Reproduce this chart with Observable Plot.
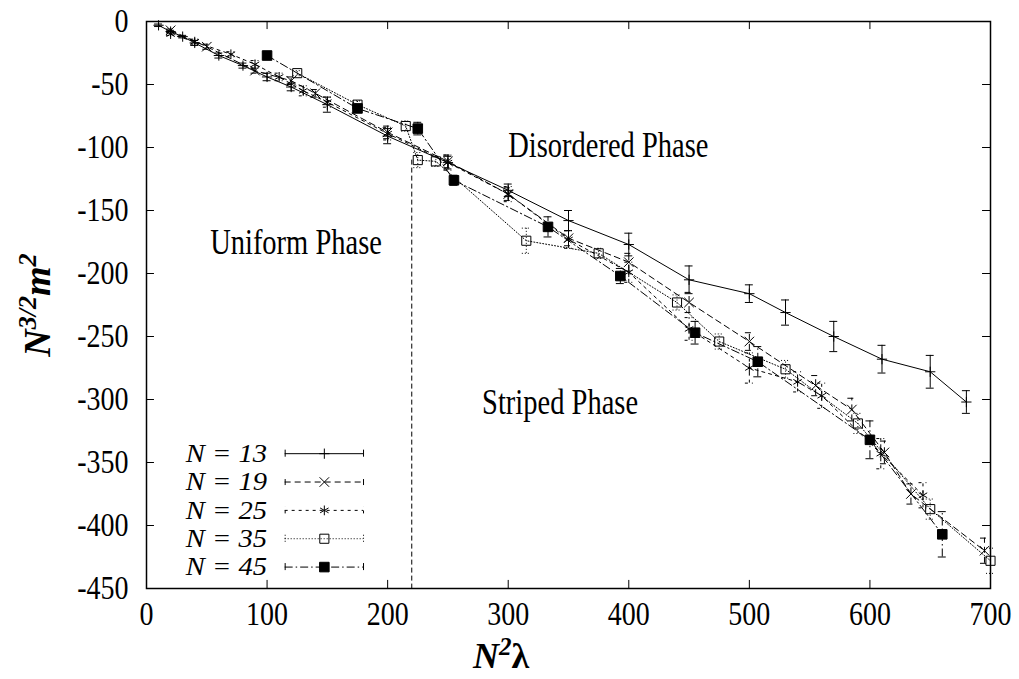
<!DOCTYPE html>
<html><head><meta charset="utf-8">
<script src="https://cdn.jsdelivr.net/npm/d3@7"></script>
<script src="https://cdn.jsdelivr.net/npm/@observablehq/plot@0.6"></script>
<style>body{margin:0;background:#fff} #chart{width:1019px;height:679px}</style>
</head><body><div id="chart"></div>
<script>
// ---- data ----
const seriesNames = ["N = 13", "N = 19", "N = 25", "N = 35", "N = 45"];

const n13X = [10, 20, 30, 40, 60, 80, 100, 120, 150, 200, 250, 300, 350, 400, 450, 500, 530, 570, 610, 650, 680];
const n13Y = [-3, -8, -12, -17, -27, -35, -44, -52, -66, -91, -112, -134, -158, -177, -205, -216, -231, -250, -268, -278, -302];
const n13E = [1, 1, 1, 2, 2, 2, 3, 3, 6, 6, 5, 5, 8, 9, 11, 7, 10, 12, 11, 13, 9];

const n19X = [20, 50, 90, 120, 140, 200, 250, 300, 350, 400, 450, 500, 555, 585, 612, 634, 695];
const n19Y = [-7, -20, -39, -47, -57, -88, -111, -137, -172, -191, -223, -254, -289, -308, -342, -375, -420];
const n19E = [1, 2, 2, 3, 3, 5, 5, 5, 6, 7, 8, 7, 8, 9, 9, 8, 10];

const n25X = [20, 40, 70, 90, 110, 130, 150, 200, 250, 300, 350, 400, 450, 500, 540, 560, 609, 644];
const n25Y = [-10, -16, -26, -34, -44, -55, -64, -89, -112, -137, -173, -199, -244, -275, -286, -297, -343, -376];
const n25E = [1, 2, 2, 3, 3, 4, 4, 5, 6, 6, 7, 8, 9, 12, 8, 10, 12, 10];

const n35X = [125, 175, 215, 225, 240, 315, 375, 440, 475, 530, 590, 650, 700];
const n35Y = [-41, -66, -83, -110, -111, -174, -184, -223, -254, -276, -319, -387, -428];
const n35E = [2, 3, 4, 6, 4, 10, 4, 6, 6, 7, 8, 8, 10];

const n45X = [100, 175, 225, 255, 333, 393, 455, 507, 600, 660];
const n45Y = [-27, -69, -85, -126, -163, -202, -247, -270, -332, -407];
const n45E = [2, 3, 5, 4, 8, 6, 9, 12, 15, 18];

const xTicks = [0, 100, 200, 300, 400, 500, 600, 700];
const yTicks = [0, -50, -100, -150, -200, -250, -300, -350, -400, -450];

const phaseLabels = ["Disordered Phase", "Uniform Phase", "Striped Phase"];
const phaseX = [383, 124, 343];
const phaseY = [-99, -176, -303];

const boundaryX = [220];
const boundaryY = [-110];

// ---- styles per series ----
const styles = [
  {dash: null, symbol: "plus", r: 3.4, fill: "none"},
  {dash: "6,4", symbol: "times", r: 4.4, fill: "none"},
  {dash: "3,4", symbol: "asterisk", r: 4.6, fill: "none"},
  {dash: "1,2", symbol: "square2", r: 5.8, fill: "none"},
  {dash: "8,3,1.5,3", symbol: "square", r: 5.4, fill: "black"}
];
const raw = [[n13X, n13Y, n13E], [n19X, n19Y, n19E], [n25X, n25Y, n25E], [n35X, n35Y, n35E], [n45X, n45Y, n45E]];

const capHalf = 3.3;
const marks = [];
raw.forEach(([xs, ys, es], si) => {
  const st = styles[si];
  const data = xs.map((x, i) => ({x, y: ys[i], e: es[i]}));
  const common = {stroke: "black", strokeWidth: 1, strokeDasharray: st.dash};
  marks.push(Plot.line(data, {x: "x", y: "y", ...common}));
  marks.push(Plot.ruleX(data, {x: "x", y1: d => d.y - d.e, y2: d => d.y + d.e, ...common}));
  marks.push(Plot.ruleY(data, {y: d => d.y - d.e, x1: d => d.x - capHalf, x2: d => d.x + capHalf, ...common}));
  marks.push(Plot.ruleY(data, {y: d => d.y + d.e, x1: d => d.x - capHalf, x2: d => d.x + capHalf, ...common}));
  marks.push(Plot.dot(data, {x: "x", y: "y", symbol: () => st.symbol, r: st.r, fill: st.fill, stroke: "black", strokeWidth: 1}));
});

// legend (inside plot, bottom-left)
const legRows = seriesNames.map((name, i) => ({name, i, y: -343 - 22.5 * i}));
legRows.forEach(row => {
  const st = styles[row.i];
  const common = {stroke: "black", strokeWidth: 1, strokeDasharray: st.dash};
  marks.push(Plot.ruleY([row], {y: "y", x1: 115, x2: 180, ...common}));
  marks.push(Plot.ruleX([row], {x: 115, y1: d => d.y - 2.8, y2: d => d.y + 2.8, ...common}));
  marks.push(Plot.ruleX([row], {x: 180, y1: d => d.y - 2.8, y2: d => d.y + 2.8, ...common}));
  marks.push(Plot.dot([row], {x: 147.5, y: "y", symbol: () => st.symbol, r: st.r, fill: st.fill, stroke: "black", strokeWidth: 1}));
  marks.push(Plot.text([row], {x: 100, y: "y", text: "name", textAnchor: "end", fontStyle: "italic", fontSize: 26, fill: "black", className: "leg-text"}));
});

marks.push(Plot.ruleX(boundaryX.map((x, i) => ({x, y: boundaryY[i]})), {x: "x", y1: "y", y2: -450, stroke: "black", strokeWidth: 1, strokeDasharray: "5,3"}));

marks.push(Plot.text(phaseLabels.map((t, i) => ({t, x: phaseX[i], y: phaseY[i]})), {x: "x", y: "y", text: "t", fontSize: 28.5, fill: "black", className: "stretch-phase"}));

const tkY = 6.4, tkX = 6.6;
marks.push(Plot.ruleX(xTicks, {x: d => d, y1: -450, y2: -450 + tkY, stroke: "black", strokeWidth: 1}));
marks.push(Plot.ruleX(xTicks, {x: d => d, y1: 0, y2: -tkY, stroke: "black", strokeWidth: 1}));
marks.push(Plot.ruleY(yTicks, {y: d => d, x1: 0, x2: tkX, stroke: "black", strokeWidth: 1}));
marks.push(Plot.ruleY(yTicks, {y: d => d, x1: 700 - tkX, x2: 700, stroke: "black", strokeWidth: 1}));

marks.push(Plot.axisX(xTicks, {tickSize: 0, tickPadding: 13, label: null, tickFormat: d => String(d), fontSize: 28}));
marks.push(Plot.axisY(yTicks, {tickSize: 0, tickPadding: 18, label: null, tickFormat: d => String(d), fontSize: 28}));
marks.push(Plot.frame({stroke: "black", strokeWidth: 1.5}));

const chart = Plot.plot({
  width: 1019, height: 679,
  marginLeft: 146, marginRight: 29, marginTop: 21, marginBottom: 91,
  x: {domain: [0, 700]},
  y: {domain: [-450, 0]},
  style: {fontFamily: "'Liberation Serif', serif", fontSize: "28px", color: "black", background: "white", overflow: "visible"},
  marks
});
document.getElementById("chart").appendChild(chart);

// vertically stretch glyphs (keep width, enlarge height) to mimic the reference's tall type
function stretch(el, k, widen = 1) {
  const w = el.getComputedTextLength();
  const fs = parseFloat(getComputedStyle(el).fontSize);
  el.style.fontSize = (fs * k) + "px";
  el.setAttribute("textLength", w * widen);
  el.setAttribute("lengthAdjust", "spacingAndGlyphs");
}
chart.querySelectorAll('g[aria-label="x-axis tick label"] text, g[aria-label="y-axis tick label"] text').forEach(el => stretch(el, 1.18));
chart.querySelectorAll('.stretch-phase text').forEach(el => stretch(el, 1.22));
chart.querySelectorAll('.leg-text text').forEach(el => stretch(el, 1, 1.1));

// axis titles with superscripts
const svg = d3.select(chart);
const yl = svg.append("text")
  .attr("transform", "translate(50,305) rotate(-90)")
  .attr("text-anchor", "middle")
  .attr("font-family", "'Liberation Serif', serif")
  .attr("font-weight", "bold").attr("font-style", "italic")
  .attr("font-size", 38).attr("fill", "black");
yl.append("tspan").text("N");
yl.append("tspan").attr("dy", -14).attr("font-size", 26).text("3/2");
yl.append("tspan").attr("dy", 14).text("m");
yl.append("tspan").attr("dy", -14).attr("font-size", 26).text("2");

const xl = svg.append("text")
  .attr("transform", "translate(501,668)")
  .attr("text-anchor", "middle")
  .attr("font-family", "'Liberation Serif', serif")
  .attr("font-weight", "bold").attr("font-style", "italic")
  .attr("font-size", 36).attr("fill", "black");
xl.append("tspan").text("N");
xl.append("tspan").attr("dy", -13).attr("font-size", 25).text("2");
xl.append("tspan").attr("dy", 13).attr("font-style", "normal").text("λ");
</script>
</body></html>
